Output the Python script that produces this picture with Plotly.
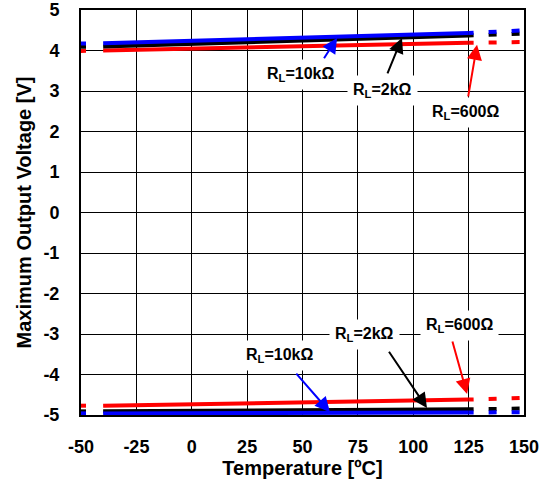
import plotly.graph_objects as go

# ---------------- data ----------------
temps = [-40, 125]          # measured range (solid)
temps_left = [-50, -40]     # extension (dashed)
temps_right = [125, 150]    # extension (dashed)

top_10k = [4.18, 4.43]
top_2k = [4.10, 4.37]
top_600 = [4.00, 4.19]
bot_10k = [-4.96, -4.94]
bot_2k = [-4.91, -4.86]
bot_600 = [-4.77, -4.62]

top_10k_left = [4.17, 4.18]
top_2k_left = [4.09, 4.10]
top_600_left = [3.99, 4.00]
bot_10k_left = [-4.96, -4.96]
bot_2k_left = [-4.91, -4.91]
bot_600_left = [-4.77, -4.77]

top_10k_right = [4.43, 4.50]
top_2k_right = [4.37, 4.42]
top_600_right = [4.19, 4.21]
bot_10k_right = [-4.94, -4.93]
bot_2k_right = [-4.86, -4.84]
bot_600_right = [-4.62, -4.58]

x_ticks = [-50, -25, 0, 25, 50, 75, 100, 125, 150]
x_ticklabels = ["-50", "-25", "0", "25", "50", "75", "100", "125", "150"]
y_ticks = [5, 4, 3, 2, 1, 0, -1, -2, -3, -4, -5]
y_ticklabels = ["5", "4", "3", "2", "1", "0", "-1", "-2", "-3", "-4", "-5"]

label_texts = ["R<sub>L</sub>=10kΩ", "R<sub>L</sub>=2kΩ", "R<sub>L</sub>=600Ω",
               "R<sub>L</sub>=10kΩ", "R<sub>L</sub>=2kΩ", "R<sub>L</sub>=600Ω"]
label_x = [48.9, 86.3, 123.4, 39.8, 78.2, 120.7]
label_y = [3.40, 3.02, 2.46, -3.54, -3.02, -2.78]
arrow_tip_x = [65.6, 94.9, 128.8, 62.4, 106.2, 124.3]
arrow_tip_y = [4.31, 4.31, 4.14, -4.93, -4.83, -4.48]
arrow_tail_x = [59.3, 88.1, 124.7, 46.6, 88.6, 117.5]
arrow_tail_y = [3.77, 3.40, 2.83, -3.94, -3.40, -3.15]

# ---------------- styling ----------------
BLUE, BLACK, RED = "#0000FF", "#000000", "#FF0000"
label_colors = [BLUE, BLACK, RED, BLUE, BLACK, RED]
FONT = "Liberation Sans, Arial, sans-serif"
LW = 4

fig = go.Figure()

series = [
    (top_600, top_600_left, top_600_right, RED),
    (top_2k, top_2k_left, top_2k_right, BLACK),
    (top_10k, top_10k_left, top_10k_right, BLUE),
    (bot_600, bot_600_left, bot_600_right, RED),
    (bot_2k, bot_2k_left, bot_2k_right, BLACK),
    (bot_10k, bot_10k_left, bot_10k_right, BLUE),
]
for main, left, right, col in series:
    fig.add_trace(go.Scatter(x=temps, y=main, mode="lines",
                             line=dict(color=col, width=LW), showlegend=False,
                             hoverinfo="skip"))
    fig.add_trace(go.Scatter(x=temps_left, y=left, mode="lines",
                             line=dict(color=col, width=LW, dash="5px,100px"),
                             showlegend=False, hoverinfo="skip"))
    fig.add_trace(go.Scatter(x=temps_right, y=right, mode="lines",
                             line=dict(color=col, width=LW,
                                       dash="5px,15px,8px,15px,8px,100px"),
                             showlegend=False, hoverinfo="skip"))

for i in range(len(label_texts)):
    fig.add_annotation(x=label_x[i], y=label_y[i], xref="x", yref="y",
                       text=label_texts[i], showarrow=False,
                       bgcolor="white", borderpad=5,
                       font=dict(family=FONT, size=16, color="black", weight="bold"))
    fig.add_annotation(x=arrow_tip_x[i], y=arrow_tip_y[i], xref="x", yref="y",
                       ax=arrow_tail_x[i], ay=arrow_tail_y[i], axref="x", ayref="y",
                       text="", showarrow=True, arrowhead=2, arrowsize=1.5,
                       arrowwidth=2, arrowcolor=label_colors[i], standoff=0)

axis_common = dict(showgrid=True, gridcolor="black", gridwidth=1, griddash="solid",
                   zeroline=False, showline=True, linecolor="black",
                   linewidth=2, mirror=True, ticks="", automargin=False,
                   tickfont=dict(family=FONT, size=18, color="black", weight="bold"))

fig.update_xaxes(range=[-50, 150], tickvals=x_ticks, ticktext=x_ticklabels,
                 title=dict(text="Temperature [ºC]", standoff=5,
                            font=dict(family=FONT, size=20, color="black", weight="bold")),
                 ticklabelstandoff=14, **axis_common)
fig.update_yaxes(range=[-5, 5], tickvals=y_ticks, ticktext=y_ticklabels,
                 title=dict(text="Maximum Output Voltage [V]", standoff=6,
                            font=dict(family=FONT, size=20, color="black", weight="bold")),
                 ticklabelstandoff=16, **axis_common)

fig.update_layout(width=551, height=490,
                  margin=dict(l=81, r=27, t=10, b=75, autoexpand=False),
                  paper_bgcolor="white", plot_bgcolor="white", showlegend=False)

fig.write_html("out.html",
               config={"displayModeBar": False},
               post_script="document.body.style.margin='0';"
                           "document.body.style.overflow='hidden';")
